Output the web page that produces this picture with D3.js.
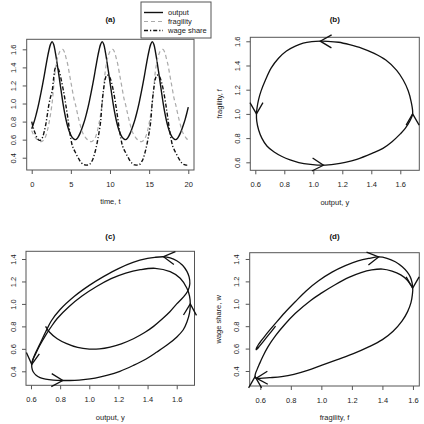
<!DOCTYPE html>
<html>
<head>
<meta charset="utf-8">
<script src="https://cdn.jsdelivr.net/npm/d3@7"></script>
<style>
  html, body { margin: 0; padding: 0; background: #fff; }
  svg { display: block; font-family: "Liberation Sans", Arial, Helvetica, sans-serif; }
</style>
</head>
<body>
<script>
// Time series, panel (a): every 0.2 time units
const time = [
  0.0, 0.2, 0.4, 0.6, 0.8, 1.0, 1.2, 1.4, 1.6, 1.8, 2.0, 2.2, 2.4, 2.6, 2.8, 3.0, 3.2, 3.4, 3.6, 3.8,
  4.0, 4.2, 4.4, 4.6, 4.8, 5.0, 5.2, 5.4, 5.6, 5.8, 6.0, 6.2, 6.4, 6.6, 6.8, 7.0, 7.2, 7.4, 7.6, 7.8,
  8.0, 8.2, 8.4, 8.6, 8.8, 9.0, 9.2, 9.4, 9.6, 9.8, 10.0, 10.2, 10.4, 10.6, 10.8, 11.0, 11.2, 11.4, 11.6, 11.8,
  12.0, 12.2, 12.4, 12.6, 12.8, 13.0, 13.2, 13.4, 13.6, 13.8, 14.0, 14.2, 14.4, 14.6, 14.8, 15.0, 15.2, 15.4, 15.6, 15.8,
  16.0, 16.2, 16.4, 16.6, 16.8, 17.0, 17.2, 17.4, 17.6, 17.8, 18.0, 18.2, 18.4, 18.6, 18.8, 19.0, 19.2, 19.4, 19.6, 19.8, 20.0
];
const output = [
  0.720, 0.770, 0.825, 0.890, 0.960, 1.040, 1.125, 1.215, 1.310, 1.410, 1.505, 1.590, 1.655,
  1.685, 1.655, 1.575, 1.470, 1.355, 1.235, 1.115, 1.000, 0.900, 0.815, 0.745, 0.690, 0.650, 0.622, 0.605, 0.600,
  0.612, 0.640, 0.675, 0.720, 0.770, 0.825, 0.890, 0.960, 1.040, 1.125, 1.215, 1.310, 1.410, 1.505, 1.590, 1.655,
  1.685, 1.655, 1.575, 1.470, 1.355, 1.235, 1.115, 1.000, 0.900, 0.815, 0.745, 0.690, 0.650, 0.622, 0.605, 0.600,
  0.612, 0.640, 0.675, 0.720, 0.770, 0.825, 0.890, 0.960, 1.040, 1.125, 1.215, 1.310, 1.410, 1.505, 1.590, 1.655,
  1.685, 1.655, 1.575, 1.470, 1.355, 1.235, 1.115, 1.000, 0.900, 0.815, 0.745, 0.690, 0.650, 0.622, 0.605, 0.600,
  0.612, 0.640, 0.675, 0.720, 0.770, 0.825, 0.890, 0.960
];
const fragility = [
  0.700, 0.660, 0.632, 0.610, 0.594, 0.583, 0.578, 0.586, 0.605, 0.640, 0.700, 0.780, 0.880,
  1.000, 1.180, 1.360, 1.465, 1.535, 1.578, 1.597, 1.598, 1.565, 1.500, 1.432, 1.335, 1.240, 1.143, 1.050, 0.985,
  0.905, 0.830, 0.760, 0.700, 0.660, 0.632, 0.610, 0.594, 0.583, 0.578, 0.586, 0.605, 0.640, 0.700, 0.780, 0.880,
  1.000, 1.180, 1.360, 1.465, 1.535, 1.578, 1.597, 1.598, 1.565, 1.500, 1.432, 1.335, 1.240, 1.143, 1.050, 0.985,
  0.905, 0.830, 0.760, 0.700, 0.660, 0.632, 0.610, 0.594, 0.583, 0.578, 0.586, 0.605, 0.640, 0.700, 0.780, 0.880,
  1.000, 1.180, 1.360, 1.465, 1.535, 1.578, 1.597, 1.598, 1.565, 1.500, 1.432, 1.335, 1.240, 1.143, 1.050, 0.985,
  0.905, 0.830, 0.760, 0.700, 0.660, 0.632, 0.610, 0.594
];
const wageShare = [
  0.800, 0.730, 0.680, 0.635, 0.605, 0.592, 0.600, 0.630, 0.690, 0.770, 0.880, 0.990, 1.070,
  1.130, 1.280, 1.390, 1.415, 1.385, 1.330, 1.250, 1.165, 1.070, 0.960, 0.850, 0.720, 0.610, 0.530, 0.490, 0.455,
  0.420, 0.390, 0.360, 0.340, 0.326, 0.320, 0.318, 0.320, 0.326, 0.350, 0.380, 0.435, 0.500, 0.585, 0.680, 0.800,
  1.020, 1.170, 1.275, 1.315, 1.310, 1.285, 1.230, 1.155, 1.060, 0.950, 0.830, 0.710, 0.610, 0.530, 0.490, 0.455,
  0.420, 0.390, 0.360, 0.340, 0.326, 0.320, 0.318, 0.320, 0.326, 0.350, 0.380, 0.435, 0.500, 0.585, 0.680, 0.800,
  1.020, 1.170, 1.275, 1.315, 1.310, 1.285, 1.230, 1.155, 1.060, 0.950, 0.830, 0.710, 0.610, 0.530, 0.490, 0.455,
  0.420, 0.390, 0.360, 0.340, 0.326, 0.320, 0.318, 0.320
];
const seriesNames = ["output", "fragility", "wage share"];

// Phase portraits (b)-(d), as [x, y] pairs
const loopYF = [
  [1.685, 1.00], [1.675, 1.10], [1.655, 1.19], [1.62, 1.28], [1.575, 1.36], [1.50, 1.445], [1.42, 1.50],
  [1.336, 1.542], [1.25, 1.572], [1.175, 1.592], [1.10, 1.600], [1.048, 1.601], [0.99, 1.597], [0.93, 1.585],
  [0.876, 1.56], [0.815, 1.52], [0.76, 1.46], [0.71, 1.38], [0.67, 1.28], [0.64, 1.19], [0.623, 1.12],
  [0.612, 1.05], [0.608, 1.00], [0.610, 0.94], [0.623, 0.867], [0.645, 0.80], [0.68, 0.735], [0.73, 0.685],
  [0.784, 0.648], [0.84, 0.62], [0.90, 0.598], [0.98, 0.583], [1.07, 0.576], [1.15, 0.585], [1.22, 0.600],
  [1.30, 0.625], [1.405, 0.674], [1.48, 0.715], [1.543, 0.77], [1.60, 0.835], [1.634, 0.88], [1.665, 0.94]
];
const startYW = [
  [0.700, 0.800], [0.726, 0.750], [0.78, 0.69], [0.845, 0.646], [0.92, 0.612], [1.00, 0.598], [1.07, 0.600],
  [1.143, 0.616], [1.22, 0.645], [1.303, 0.69], [1.38, 0.745], [1.441, 0.80], [1.50, 0.865], [1.553, 0.93],
  [1.60, 1.00], [1.645, 1.06], [1.678, 1.12], [1.69, 1.18], [1.685, 1.24], [1.67, 1.29], [1.64, 1.345],
  [1.60, 1.385], [1.555, 1.41], [1.509, 1.42], [1.45, 1.415], [1.40, 1.405], [1.30, 1.37], [1.20, 1.315],
  [1.10, 1.245], [1.00, 1.165], [0.90, 1.07], [0.80, 0.95], [0.74, 0.85], [0.70, 0.75], [0.66, 0.64],
  [0.63, 0.56], [0.612, 0.50], [0.605, 0.462]
];
const cycleYW = [
  [0.605, 0.462], [0.608, 0.42], [0.616, 0.394], [0.635, 0.365], [0.662, 0.344], [0.70, 0.33], [0.753, 0.321],
  [0.818, 0.318], [0.90, 0.320], [0.96, 0.326], [1.04, 0.340], [1.12, 0.364], [1.21, 0.40], [1.303, 0.453],
  [1.39, 0.51], [1.464, 0.572], [1.54, 0.64], [1.601, 0.706], [1.645, 0.77], [1.67, 0.839], [1.688, 0.92],
  [1.693, 1.00], [1.688, 1.07], [1.670, 1.139], [1.624, 1.228], [1.555, 1.287], [1.452, 1.317], [1.35, 1.305],
  [1.25, 1.275], [1.15, 1.225], [1.05, 1.155], [0.95, 1.07], [0.86, 0.975], [0.78, 0.87], [0.735, 0.79],
  [0.70, 0.72], [0.66, 0.63], [0.63, 0.55], [0.612, 0.50]
];
const startFW = [
  [0.700, 0.800], [0.672, 0.752], [0.645, 0.706], [0.618, 0.660], [0.595, 0.622], [0.580, 0.598], [0.573, 0.590],
  [0.574, 0.602], [0.585, 0.630], [0.605, 0.668], [0.630, 0.712], [0.660, 0.762], [0.695, 0.818], [0.76, 0.920],
  [0.829, 1.018], [0.90, 1.115], [0.982, 1.205], [1.07, 1.282], [1.157, 1.340], [1.24, 1.383], [1.31, 1.405],
  [1.375, 1.418], [1.43, 1.406], [1.484, 1.375], [1.53, 1.33], [1.562, 1.284], [1.583, 1.238], [1.594, 1.19],
  [1.598, 1.14]
];
const cycleFW = [
  [1.598, 1.14], [1.596, 1.08], [1.587, 1.01], [1.565, 0.93], [1.528, 0.845], [1.47, 0.755], [1.40, 0.68],
  [1.31, 0.615], [1.21, 0.555], [1.10, 0.50], [1.00, 0.45], [0.91, 0.405], [0.82, 0.37], [0.74, 0.35],
  [0.66, 0.34], [0.60, 0.334], [0.574, 0.336], [0.566, 0.35], [0.568, 0.375], [0.578, 0.41], [0.592, 0.455],
  [0.615, 0.525], [0.65, 0.615], [0.70, 0.715], [0.76, 0.815], [0.83, 0.915], [0.93, 1.03], [1.00, 1.095],
  [1.09, 1.17], [1.18, 1.235], [1.26, 1.278], [1.33, 1.302], [1.40, 1.31], [1.463, 1.292], [1.52, 1.258],
  [1.56, 1.215], [1.585, 1.17]
];

// Direction arrows: [from, tip] in data units
const arrowsYF = [
  [[1.10, 1.600], [1.048, 1.601]], [[0.608, 1.05], [0.608, 1.00]],
  [[1.00, 0.581], [1.07, 0.576]], [[1.685, 0.95], [1.685, 1.00]]
];
const arrowsYW = [
  [[1.56, 1.412], [1.509, 1.42]], [[0.608, 0.50], [0.605, 0.462]],
  [[0.75, 0.321], [0.818, 0.318]], [[1.692, 0.95], [1.693, 1.00]]
];
const arrowsFW = [
  [[1.31, 1.405], [1.375, 1.418]], [[1.598, 1.19], [1.598, 1.14]],
  [[0.66, 0.34], [0.574, 0.336]], [[0.566, 0.30], [0.566, 0.35]]
];

const ticks1 = [0.4, 0.6, 0.8, 1.0, 1.2, 1.4, 1.6];
const ticks2 = [0.6, 0.8, 1.0, 1.2, 1.4, 1.6];
const ticks3 = [0.4, 0.6, 0.8, 1.0, 1.2, 1.4];
const timeTicks = [0, 5, 10, 15, 20];

const W = 424, H = 424;
const INK = "#111";
const FS = 7.5;

const svg = d3.select("body").append("svg")
  .attr("width", W).attr("height", H)
  .attr("viewBox", [0, 0, W, H]);

function panel({box, xDomain, yDomain, xTicks, yTicks, xFmt, title, titleY, xLabel, yLabel}) {
  const x = d3.scaleLinear().domain(xDomain).range([box.left, box.right]);
  const y = d3.scaleLinear().domain(yDomain).range([box.bottom, box.top]);
  const g = svg.append("g");

  const ax = g.append("g").attr("transform", `translate(0,${box.bottom})`)
    .call(d3.axisBottom(x).tickValues(xTicks).tickFormat(xFmt).tickSize(4).tickSizeOuter(0));
  const ay = g.append("g").attr("transform", `translate(${box.left},0)`)
    .call(d3.axisLeft(y).tickValues(yTicks).tickFormat(d3.format(".1f")).tickSize(4).tickSizeOuter(0));
  for (const a of [ax, ay]) {
    a.attr("font-size", null).attr("font-family", null);
    a.select(".domain").remove();
    a.selectAll(".tick line").attr("stroke", "#555");
    a.selectAll(".tick text").attr("fill", "#222").attr("font-size", FS);
  }
  ax.selectAll(".tick text").attr("y", 14).attr("dy", "0.35em");
  ay.selectAll(".tick text")
    .attr("x", null).attr("dy", "0.35em").attr("text-anchor", "middle")
    .attr("transform", "translate(-13,0) rotate(-90)");

  // R-style box around the plot region
  g.append("rect")
    .attr("x", box.left).attr("y", box.top)
    .attr("width", box.right - box.left).attr("height", box.bottom - box.top)
    .attr("fill", "none").attr("stroke", "#555").attr("stroke-width", 1);

  const cx = (box.left + box.right) / 2;
  g.append("text").attr("x", cx).attr("y", titleY).attr("dy", "0.35em")
    .attr("text-anchor", "middle").attr("font-size", 8).attr("font-weight", "bold")
    .attr("fill", INK).text(title);
  g.append("text").attr("x", cx).attr("y", box.bottom + 31.7).attr("dy", "0.35em")
    .attr("text-anchor", "middle").attr("font-size", FS).attr("fill", "#222").text(xLabel);
  if (yLabel) {
    g.append("text")
      .attr("transform", `translate(${box.left - 31},${(box.top + box.bottom) / 2}) rotate(-90)`)
      .attr("dy", "0.35em").attr("text-anchor", "middle")
      .attr("font-size", FS).attr("fill", "#222").text(yLabel);
  }
  return {g, x, y};
}

function curve(p, pts, closed, style = {}) {
  const line = d3.line().x(d => p.x(d[0])).y(d => p.y(d[1]))
    .curve(closed ? d3.curveCatmullRomClosed : d3.curveCatmullRom);
  return p.g.append("path").attr("d", line(pts))
    .attr("fill", "none").attr("stroke", style.stroke || INK)
    .attr("stroke-width", style.width || 1.3)
    .attr("stroke-dasharray", style.dash || null)
    .attr("stroke-linejoin", "round");
}

// open V arrowheads, like R's arrows()
function arrowHeads(p, arrows) {
  const len = 13, ang = Math.PI / 6;
  for (const [from, tip] of arrows) {
    const x0 = p.x(from[0]), y0 = p.y(from[1]);
    const x1 = p.x(tip[0]), y1 = p.y(tip[1]);
    const th = Math.atan2(y1 - y0, x1 - x0);
    const b1 = [x1 - len * Math.cos(th - ang), y1 - len * Math.sin(th - ang)];
    const b2 = [x1 - len * Math.cos(th + ang), y1 - len * Math.sin(th + ang)];
    p.g.append("path")
      .attr("d", `M${b1}L${x1},${y1}L${b2}`)
      .attr("fill", "none").attr("stroke", INK).attr("stroke-width", 1.3);
  }
}

// (a) time series
const pa = panel({
  box: {left: 26.7, right: 194, top: 39.3, bottom: 170},
  xDomain: [-0.64, 20.73], yDomain: [0.264, 1.711],
  xTicks: timeTicks, yTicks: ticks1, xFmt: d3.format("d"),
  title: "(a)", titleY: 19.3, xLabel: "time, t"
});
const seriesStyle = [
  {stroke: INK, width: 1.4},
  {stroke: "#aaa", width: 1.2, dash: "4,3"},
  {stroke: INK, width: 1.4, dash: "4,2,1.2,2"}
];
[output, fragility, wageShare].forEach((vals, i) => {
  curve(pa, time.map((t, k) => [t, vals[k]]), false, seriesStyle[i]);
});

// legend
const lg = svg.append("g");
lg.append("rect").attr("x", 141).attr("y", 2).attr("width", 70).attr("height", 36)
  .attr("fill", "#fff").attr("stroke", "#555").attr("stroke-width", 1);
seriesNames.forEach((name, i) => {
  const yy = 12.5 + i * 9;
  lg.append("line").attr("x1", 144).attr("x2", 163).attr("y1", yy).attr("y2", yy)
    .attr("stroke", seriesStyle[i].stroke).attr("stroke-width", seriesStyle[i].width)
    .attr("stroke-dasharray", seriesStyle[i].dash || null);
  lg.append("text").attr("x", 168).attr("y", yy).attr("dy", "0.35em")
    .attr("font-size", FS).attr("fill", "#222").text(name);
});

// (b) output vs fragility
const pb = panel({
  box: {left: 250.3, right: 419.3, top: 37.3, bottom: 170.3},
  xDomain: [0.5655, 1.731], yDomain: [0.534, 1.633],
  xTicks: ticks2, yTicks: ticks2, xFmt: d3.format(".1f"),
  title: "(b)", titleY: 19.3, xLabel: "output, y", yLabel: "fragility, f"
});
curve(pb, loopYF, true);
arrowHeads(pb, arrowsYF);

// (c) output vs wage share
const pc = panel({
  box: {left: 26, right: 194.5, top: 251.3, bottom: 385.3},
  xDomain: [0.5657, 1.722], yDomain: [0.2753, 1.4686],
  xTicks: ticks2, yTicks: ticks3, xFmt: d3.format(".1f"),
  title: "(c)", titleY: 236, xLabel: "output, y"
});
curve(pc, startYW, false);
curve(pc, cycleYW, true);
arrowHeads(pc, arrowsYW);

// (d) fragility vs wage share
const pd = panel({
  box: {left: 249.7, right: 419.3, top: 252.7, bottom: 386},
  xDomain: [0.5306, 1.6416], yDomain: [0.266, 1.456],
  xTicks: ticks2, yTicks: ticks3, xFmt: d3.format(".1f"),
  title: "(d)", titleY: 236, xLabel: "fragility, f", yLabel: "wage share, w"
});
curve(pd, startFW, false);
curve(pd, cycleFW, true);
arrowHeads(pd, arrowsFW);
</script>
</body>
</html>
